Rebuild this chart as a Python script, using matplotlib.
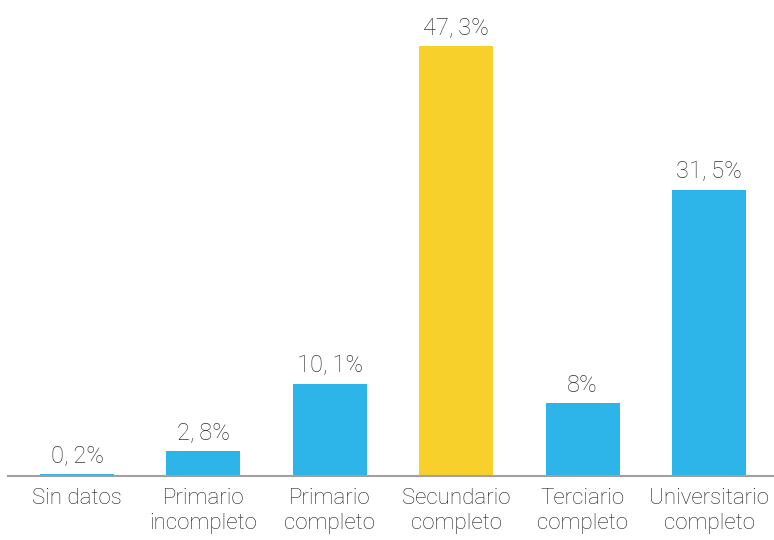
import matplotlib
matplotlib.use("Agg")
import matplotlib.pyplot as plt

categorias = ["Sin datos", "Primario\nincompleto", "Primario\ncompleto",
              "Secundario\ncompleto", "Terciario\ncompleto", "Universitario\ncompleto"]
valores = [0.2, 2.8, 10.1, 47.3, 8.0, 31.5]
etiquetas = ["0,\u20092%", "2,\u20098%", "10,\u20091%", "47,\u20093%", "8%", "31,\u20095%"]
colores = ["#2db4e8", "#2db4e8", "#2db4e8", "#f7d02b", "#2db4e8", "#2db4e8"]

plt.rcParams['font.family'] = ['Roboto', 'DejaVu Sans']

fig = plt.figure(figsize=(7.74, 5.40), dpi=100)
ax = fig.add_axes([8/774, 64/540, 766/774, 476/540])

x = list(range(len(categorias)))
ax.bar(x, valores, width=0.585, color=colores)

# etiquetas de valor arriba de cada barra
for i, v in enumerate(valores):
    ax.text(i, v + 1.3, etiquetas[i], ha="center", va="baseline",
            fontsize=17, color="#333333", fontweight="light")

ax.set_xlim(-0.546, 5.514)
ax.set_ylim(0, 52.4)
ax.set_xticks(x)
ax.set_xticklabels(categorias, fontsize=16, color="#222222",
                   fontweight="light", linespacing=1.2)
ax.tick_params(axis="x", length=0, pad=9)
ax.set_yticks([])
for s in ["top", "right", "left"]:
    ax.spines[s].set_visible(False)
ax.spines["bottom"].set_color("#a0a0a0")
ax.spines["bottom"].set_linewidth(1.5)

fig.savefig("out.png", dpi=100)
